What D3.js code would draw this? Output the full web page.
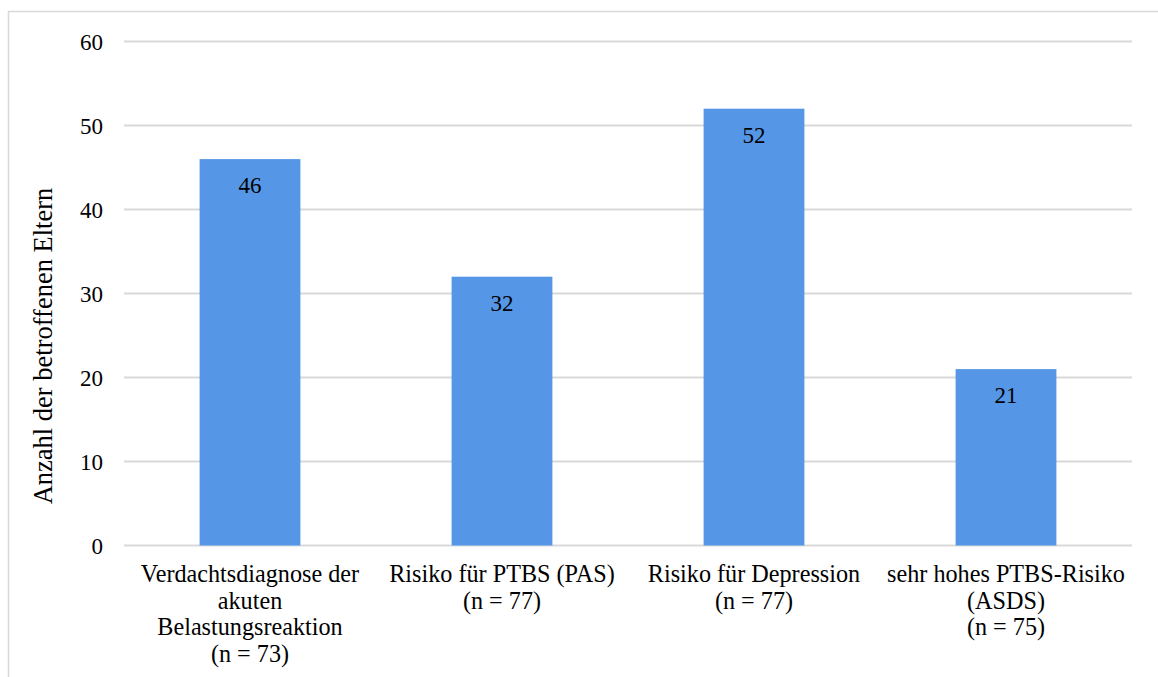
<!DOCTYPE html>
<html>
<head>
<meta charset="utf-8">
<script src="https://cdn.jsdelivr.net/npm/d3@7"></script>
<style>
  html, body { margin: 0; padding: 0; background: #fff; }
  svg { display: block; }
</style>
</head>
<body>
<svg id="chart" width="1158" height="677"></svg>
<script>
// Category labels, one array entry per line
const categoryLines = [
  ["Verdachtsdiagnose der", "akuten", "Belastungsreaktion", "(n = 73)"],
  ["Risiko für PTBS (PAS)", "(n = 77)"],
  ["Risiko für Depression", "(n = 77)"],
  ["sehr hohes PTBS-Risiko", "(ASDS)", "(n = 75)"]
];
const categories = ["cat1", "cat2", "cat3", "cat4"];
const values = [46, 32, 52, 21];
const yTicks = [0, 10, 20, 30, 40, 50, 60];
const yTitle = "Anzahl der betroffenen Eltern";

const SERIF = "'Liberation Serif', 'Times New Roman', serif";
const svg = d3.select("#chart");

// Outer chart frame
svg.append("rect")
  .attr("x", 8.5).attr("y", 11.5)
  .attr("width", 1300).attr("height", 800)
  .attr("fill", "none")
  .attr("stroke", "#d9d9d9")
  .attr("stroke-width", 1.5);

const plot = { left: 124, right: 1132, top: 41.5, bottom: 545.5 };

const x = d3.scaleBand()
  .domain(categories)
  .range([plot.left, plot.right])
  .paddingInner(0.6)
  .paddingOuter(0.3);

const y = d3.scaleLinear()
  .domain([0, 60])
  .range([plot.bottom, plot.top]);

// Horizontal gridlines
svg.append("g")
  .selectAll("line")
  .data(yTicks)
  .join("line")
  .attr("x1", plot.left).attr("x2", plot.right)
  .attr("y1", d => y(d)).attr("y2", d => y(d))
  .attr("stroke", "#d9d9d9")
  .attr("stroke-width", 2);

// Y axis tick labels
const yAxis = d3.axisLeft(y).tickValues(yTicks).tickSize(0).tickPadding(0);
const yg = svg.append("g")
  .attr("transform", `translate(103,0)`)
  .call(yAxis);
yg.select(".domain").remove();
yg.attr("font-family", null).attr("font-size", null);
yg.selectAll("text")
  .style("font-family", SERIF)
  .style("font-size", "23px")
  .attr("fill", "#000")
  .attr("dy", "0.34em");

// Bars
svg.append("g")
  .selectAll("rect")
  .data(values)
  .join("rect")
  .attr("x", (d, i) => x(categories[i]))
  .attr("width", x.bandwidth())
  .attr("y", d => y(d))
  .attr("height", d => y(0) - y(d))
  .attr("fill", "#5596e6");

// Value labels inside the bar tops
svg.append("g")
  .selectAll("text")
  .data(values)
  .join("text")
  .attr("x", (d, i) => x(categories[i]) + x.bandwidth() / 2)
  .attr("y", d => y(d) + 34)
  .attr("text-anchor", "middle")
  .style("font-family", SERIF)
  .style("font-size", "23px")
  .attr("fill", "#000")
  .text(d => d);

// Category labels under the axis
const xg = svg.append("g");
categoryLines.forEach((lines, i) => {
  const cx = x(categories[i]) + x.bandwidth() / 2;
  const t = xg.append("text")
    .attr("x", cx)
    .attr("y", 582)
    .attr("text-anchor", "middle")
    .style("font-family", SERIF)
    .style("font-size", "24.2px")
    .attr("fill", "#000");
  lines.forEach((ln, j) => {
    t.append("tspan")
      .attr("x", cx)
      .attr("dy", j === 0 ? 0 : 26.7)
      .text(ln);
  });
});

// Y axis title
svg.append("text")
  .attr("transform", "translate(52,346) rotate(-90)")
  .attr("text-anchor", "middle")
  .style("font-family", SERIF)
  .style("font-size", "26.5px")
  .attr("fill", "#000")
  .text(yTitle);
</script>
</body>
</html>
